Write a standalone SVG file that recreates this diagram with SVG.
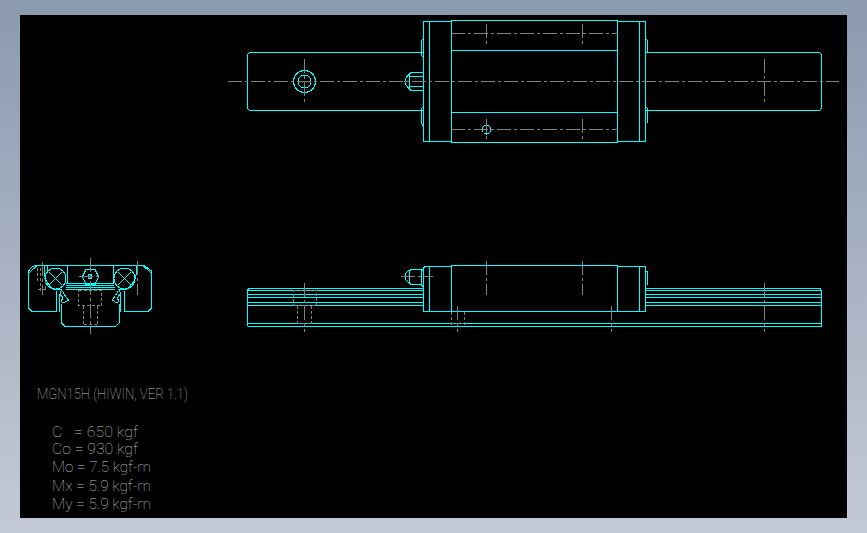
<svg xmlns="http://www.w3.org/2000/svg" width="867" height="533" viewBox="0 0 867 533">
<defs>
<linearGradient id="bg" x1="0" y1="0" x2="0" y2="1"><stop offset="0" stop-color="#8b9aaf"/><stop offset="1" stop-color="#c4c9d6"/></linearGradient>
</defs>
<style>
.c{fill:none;stroke:#00ffff;stroke-width:1;shape-rendering:crispEdges}
.g{fill:none;stroke:#808080;stroke-width:1;stroke-dasharray:14 3 3 3;shape-rendering:crispEdges}
.h{fill:none;stroke:#808080;stroke-width:1;stroke-dasharray:3 2;shape-rendering:crispEdges}
.t{font-family:"Roboto","Liberation Sans",sans-serif;font-size:15.5px;fill:#c4c4c4;font-weight:100}
</style>
<rect width="867" height="533" fill="url(#bg)"/>
<rect x="20" y="15" width="827" height="503" fill="#000"/>
<g id="plan-view">
<path class="c" d="M423.500 52.500H249.500L247.500 54.500V108.500L249.500 110.500H423.500"/>
<path class="c" d="M645.500 52.500H819.500L821.500 54.500V108.500L819.500 110.500H645.500"/>
<rect class="c" x="423.500" y="21.500" width="28" height="120"/>
<path class="c" d="M429.500 21.500V141.500"/>
<rect class="c" x="451.500" y="20.500" width="166" height="122"/>
<path class="c" d="M451.500 50.500H617.500M451.500 112.500H617.500"/>
<rect class="c" x="617.500" y="21.500" width="28" height="120"/>
<path class="c" d="M639.500 21.500V141.500"/>
<path class="c" d="M423.500 39.500H422.500L421.500 41V55L422.500 56.500H423.500M423.500 107.500H422.500L421.500 109V123L422.500 125H423.500"/>
<path class="c" d="M645.500 39.500H646.500L647.500 41V53M645.500 107.500H646.500L647.500 109V123"/>
<path class="c" d="M423 72.500H411M423 90.500H411L409.500 89V74L411 72.500M409.500 76.500H423M409.500 86.500H423M409.500 74 Q405 78 405 81.500 Q405 85 409.500 89"/>
<circle class="c" cx="304.500" cy="81.500" r="11"/>
<circle class="c" cx="304.500" cy="81.500" r="6.500"/>
<circle class="c" cx="486.500" cy="129.500" r="4.500"/>
<path class="g" d="M228 81.500H839M451 33.500H618M451 129.500H618"/>
<path class="g" d="M304.500 59V102M764.500 59V102M486.500 24V44M582.500 24V44M486.500 119V140M582.500 119V140"/>
</g>
<g id="side-view">
<path class="c" d="M423.500 288.500H248.500L247.500 290.500V325.500L248.500 326.500H821.500V290.500L820 288.500H645.500"/>
<path class="c" d="M247.500 290.500H423.500M247.500 294.500H423.500M247.500 297.500H423.500M247.500 302.500H423.500M247.500 305.500H423.500M247.500 323.500H821.500"/>
<path class="c" d="M645.500 290.500H821.500M645.500 294.500H821.500M645.500 297.500H821.500M645.500 302.500H821.500M645.500 305.500H821.500"/>
<path class="c" d="M423.500 311.500V268L425 266.500H451.500V265.500H617.500V266.500H645.500V311.500ZM429.500 266.500V311.500M451.500 265.500V311.500M617.500 265.500V311.500M639.500 266.500V311.500"/>
<path class="c" d="M645.500 268V271H646.500L647.500 272V285"/>
<path class="c" d="M423.500 268.500L421.500 271V285L423.500 287"/>
<path class="c" d="M421.500 269.500H411L409.500 271V283L411 284.500H421.500M409.500 270 Q405 273 405 276.500 Q405 280 409.500 283.500"/>
<path class="h" d="M293.500 290.500H316.500V305.500H293.500ZM297.500 305.500V326M311.500 305.500V326M297 323.500H312M451.500 311.500V326M464.500 311.500V326M451 323.500H465"/>
<path class="g" d="M401 276.500H433M486.500 261V295M582.500 261V295M304.500 283V332M764.500 283V332M457.500 306V332M611.500 306V332"/>
</g>
<g id="section-view">
<path class="c" d="M56.500 311.500H32L28.500 308V271L32.500 266.500L36 265.500H144L151.500 271V308L148 311.500H124.500"/>
<path class="c" d="M37 265.500L29 273M143 265.500L151 273M47.500 265.500V272M67 265.500V283.500M113.500 265.500V283.500"/>
<path class="c" d="M61.500 303.500V323L65 326.500H115.500L119 323V303.500"/>
<path class="c" d="M56.500 311.500V291M59.500 311.500V294M120.500 311.500V294M124.500 311.500V291"/>
<path class="c" d="M65.500 289.500H114.500M65.500 287.500H114.500M66 285.500H114M66 283.500H114"/>
<path class="c" d="M61.500 289L60 294L63 298L61 301L63 303L68.500 300L65 295.500L62.500 291"/>
<path class="c" d="M119 289L120.500 294L117 298L119 301L117 303L112 300L115.500 295.500L118 291"/>
<path class="c" d="M44.500 265.500V272Q44.500 283 54 289.500H62M136.500 265.500V272Q136 283 126 289.500H118"/>
<circle class="c" cx="55.500" cy="278.500" r="10.500"/>
<circle class="c" cx="124.500" cy="278.500" r="10.500"/>
<path class="c" d="M49 272L62 285M62 272L49 285M118 272L131 285M131 272L118 285"/>
<path class="c" d="M86 269.500H95L98.500 276.500L95 284.500H86L82.500 276.500Z"/>
<rect class="c" x="88.500" y="274.500" width="3" height="4"/>
<path class="h" d="M78.500 290.500H101.500V305.500H78.500ZM83.500 305.500V324.500M97.500 305.500V324.500M83.500 324.500H97.500M37.500 268V283M40.500 268V292M45 281V290M38 289H47"/>
<path class="g" d="M90.500 258V334M79 276.500H102M42.500 262V295M137.500 261V295"/>
</g>
<g id="notes">
<text class="t" x="37" y="399" textLength="151" lengthAdjust="spacingAndGlyphs">MGN15H (HIWIN, VER 1.1)</text>
<text class="t" x="52" y="436.500" textLength="86" lengthAdjust="spacingAndGlyphs" xml:space="preserve">C   = 650 kgf</text>
<text class="t" x="52" y="453.500" textLength="86" lengthAdjust="spacingAndGlyphs">Co = 930 kgf</text>
<text class="t" x="52" y="472" textLength="99" lengthAdjust="spacingAndGlyphs">Mo = 7.5 kgf-m</text>
<text class="t" x="52" y="490.500" textLength="99" lengthAdjust="spacingAndGlyphs">Mx = 5.9 kgf-m</text>
<text class="t" x="52" y="509" textLength="99" lengthAdjust="spacingAndGlyphs">My = 5.9 kgf-m</text>
</g>
</svg>
